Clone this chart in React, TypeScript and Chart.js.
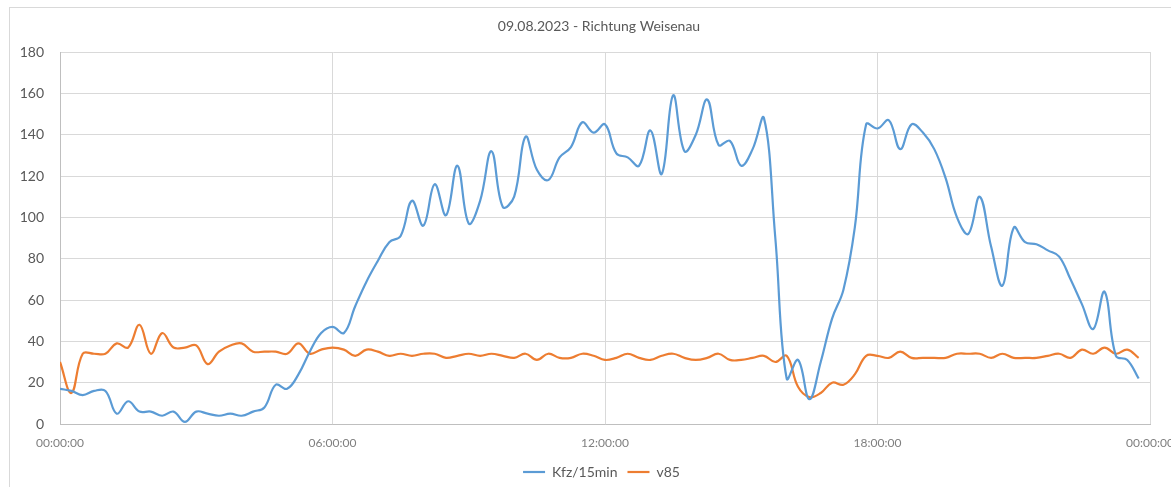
import React, { useEffect, useRef } from "react";
import { Chart, registerables } from "chart.js";

Chart.register(...registerables);

const title = "09.08.2023 - Richtung Weisenau";
const seriesNames = ["Kfz/15min", "v85"];
const tickLabels = ["00:00:00", "06:00:00", "12:00:00", "18:00:00", "00:00:00"];

// one value per 15-minute interval, 00:00 .. 23:45
const kfz = [
  17, 16, 14, 16, 16, 5, 11, 6, 6, 4, 6, 1, 6, 5, 4, 5, 4, 6, 8, 19, 17, 24, 35, 44,
  47, 44, 57, 69, 79, 88, 91, 108, 96, 116, 101, 125, 97, 108, 132, 105, 110, 139, 123, 118,
  129, 134, 146, 141, 145, 131, 129, 125, 142, 121, 159, 132, 140, 157, 135, 137, 125, 133,
  148, 90, 22, 31, 12, 30, 51, 65, 95, 145, 143, 147, 133, 145, 141, 133, 119, 100, 92, 110,
  86, 67, 95, 88, 87, 84, 81, 70, 58, 46, 64, 33, 31, 22,
];
const v85 = [
  30, 15, 34, 34, 34, 39, 37, 48, 34, 44, 37, 37, 38, 29, 35, 38, 39, 35, 35, 35, 34, 39, 34, 36,
  37, 36, 33, 36, 35, 33, 34, 33, 34, 34, 32, 33, 34, 33, 34, 33, 32, 34, 31, 34,
  32, 32, 34, 33, 31, 32, 34, 32, 31, 33, 34, 32, 31, 32, 34, 31, 31, 32,
  33, 30, 33, 18, 13, 15, 20, 19, 24, 33, 33, 32, 35, 32, 32, 32, 32, 34, 34, 34,
  32, 34, 32, 32, 32, 33, 34, 32, 36, 34, 37, 34, 36, 32,
];

const FONT = "Lato, 'Open Sans', sans-serif";

// shifts the centred title/legend boxes so they sit where the reference has them
const centerShift = {
  id: "centerShift",
  afterLayout(chart: any) {
    if (chart.titleBlock) chart.titleBlock.left = 48;
    if (chart.legend) chart.legend.left = 53;
  },
};

export default function App() {
  const ref = useRef<HTMLCanvasElement | null>(null);

  useEffect(() => {
    if (!ref.current) return;
    const toXY = (arr: number[]) => arr.map((v, i) => ({ x: i, y: v }));
    const chart = new Chart(ref.current, {
      type: "line",
      data: {
        datasets: [
          {
            label: seriesNames[0],
            data: toXY(kfz),
            borderColor: "#5b9bd5",
            backgroundColor: "#5b9bd5",
            borderWidth: 2.2,
            pointRadius: 0,
            tension: 0.4,
          },
          {
            label: seriesNames[1],
            data: toXY(v85),
            borderColor: "#ed7d31",
            backgroundColor: "#ed7d31",
            borderWidth: 2.2,
            pointRadius: 0,
            tension: 0.4,
          },
        ],
      },
      options: {
        animation: false,
        responsive: false,
        maintainAspectRatio: false,
        layout: { padding: { left: 10, right: 50, top: 0, bottom: 0 } },
        plugins: {
          title: {
            display: true,
            text: title,
            color: "#595959",
            font: { family: FONT, size: 14, weight: "normal" },
            padding: { top: 17.6, bottom: 17.6 },
          },
          legend: {
            position: "bottom",
            labels: {
              usePointStyle: true,
              pointStyle: "line",
              pointStyleWidth: 22,
              color: "#595959",
              font: { family: FONT, size: 14 },
              padding: 10,
            },
          },
          tooltip: { enabled: false },
        },
        scales: {
          x: {
            type: "linear",
            min: 0,
            max: 96,
            ticks: {
              stepSize: 24,
              color: "#7f7f7f",
              font: { family: FONT, size: 12 },
              padding: 12,
              maxRotation: 0,
              callback: (v: any) => tickLabels[Math.round(Number(v) / 24)] ?? "",
            },
            grid: { color: "#d9d9d9", drawTicks: false },
            border: { color: "#bfbfbf" },
            afterFit: (s: any) => {
              s.height = 31;
            },
          },
          y: {
            min: 0,
            max: 180,
            ticks: {
              stepSize: 20,
              color: "#595959",
              font: { family: FONT, size: 14 },
              padding: 16,
            },
            grid: { color: "#d9d9d9", drawTicks: false },
            border: { color: "#bfbfbf" },
            afterFit: (s: any) => {
              s.width = 50;
            },
          },
        },
      },
      plugins: [centerShift],
    });
    return () => chart.destroy();
  }, []);

  return (
    <div
      style={{
        position: "fixed",
        left: 0,
        top: 0,
        width: 1171,
        height: 487,
        overflow: "hidden",
        background: "#fff",
      }}
    >
      <div
        style={{
          position: "absolute",
          left: 9,
          top: 7,
          width: 1300,
          height: 600,
          border: "1px solid #d9d9d9",
        }}
      />
      <canvas
        ref={ref}
        width={1200}
        height={489}
        style={{ position: "absolute", left: 0, top: 0, width: 1200, height: 489 }}
      />
    </div>
  );
}
